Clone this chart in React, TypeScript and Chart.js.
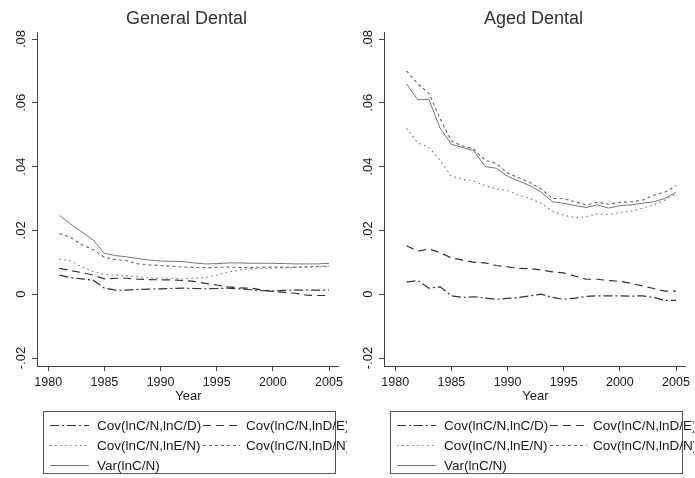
import React, { useEffect, useRef } from 'react';
import { Chart, registerables } from 'chart.js';

Chart.register(...registerables);

// ---------- data ----------
const years = [1981, 1982, 1983, 1984, 1985, 1986, 1987, 1988, 1989, 1990, 1991, 1992, 1993, 1994, 1995, 1996, 1997, 1998, 1999, 2000, 2001, 2002, 2003, 2004, 2005];
const xTickYears = [1980, 1985, 1990, 1995, 2000, 2005];
const yTickValues = [-0.02, 0, 0.02, 0.04, 0.06, 0.08];
const yTickLabels = ['-.02', '0', '.02', '.04', '.06', '.08'];
const seriesNames = ['Cov(lnC/N,lnC/D)', 'Cov(lnC/N,lnD/E)', 'Cov(lnC/N,lnE/N)', 'Cov(lnC/N,lnD/N)', 'Var(lnC/N)'];
const panelTitles = ['General Dental', 'Aged Dental'];

// General Dental
const genCovCD = [0.006, 0.0052, 0.0048, 0.0044, 0.0019, 0.0013, 0.0013, 0.0015, 0.0016, 0.0017, 0.0018, 0.0019, 0.0018, 0.0017, 0.0018, 0.0019, 0.0017, 0.0014, 0.0011, 0.001, 0.0012, 0.0013, 0.0013, 0.0013, 0.0013];
const genCovDE = [0.0081, 0.0074, 0.0068, 0.006, 0.0048, 0.005, 0.005, 0.0047, 0.0046, 0.0045, 0.0045, 0.0043, 0.004, 0.0034, 0.0029, 0.0023, 0.002, 0.0019, 0.0014, 0.0009, 0.0006, 0.0003, -0.0003, -0.0004, -0.0004];
const genCovEN = [0.011, 0.0105, 0.0085, 0.0072, 0.0062, 0.006, 0.0058, 0.0055, 0.0052, 0.005, 0.005, 0.0048, 0.005, 0.0052, 0.006, 0.007, 0.0075, 0.008, 0.008, 0.0082, 0.0083, 0.0084, 0.0085, 0.0086, 0.0087];
const genCovDN = [0.019, 0.0178, 0.0155, 0.014, 0.0116, 0.0108, 0.0105, 0.0095, 0.0092, 0.009, 0.0088, 0.0085, 0.0084, 0.0083, 0.0084, 0.0085, 0.0084, 0.0084, 0.0085, 0.0085, 0.0085, 0.0085, 0.0086, 0.0087, 0.0089];
const genVar = [0.0247, 0.022, 0.0195, 0.017, 0.0128, 0.0121, 0.0117, 0.0112, 0.0107, 0.0104, 0.0103, 0.0102, 0.0098, 0.0095, 0.0096, 0.0098, 0.0098, 0.0097, 0.0097, 0.0097, 0.0096, 0.0095, 0.0095, 0.0095, 0.0097];

// Aged Dental
const agedCovCD = [0.0038, 0.0043, 0.0019, 0.0023, -0.0005, -0.001, -0.0008, -0.0012, -0.0016, -0.0013, -0.001, -0.0005, 0, -0.001, -0.0016, -0.0012, -0.0007, -0.0005, -0.0005, -0.0005, -0.0006, -0.0005, -0.001, -0.0019, -0.0019];
const agedCovDE = [0.0152, 0.0135, 0.0142, 0.013, 0.0114, 0.0107, 0.01, 0.0098, 0.009, 0.0086, 0.0081, 0.008, 0.0076, 0.007, 0.0067, 0.0057, 0.0047, 0.0047, 0.0043, 0.0041, 0.0034, 0.0026, 0.0018, 0.001, 0.001];
const agedCovEN = [0.052, 0.0475, 0.046, 0.042, 0.037, 0.036, 0.0355, 0.034, 0.033, 0.0325, 0.031, 0.03, 0.0285, 0.026, 0.0248, 0.024, 0.0243, 0.0252, 0.025, 0.0256, 0.026, 0.027, 0.028, 0.0295, 0.0315];
const agedCovDN = [0.07, 0.066, 0.063, 0.055, 0.048, 0.0465, 0.0455, 0.042, 0.041, 0.038, 0.0365, 0.035, 0.033, 0.03, 0.03, 0.029, 0.028, 0.0288, 0.0282, 0.0288, 0.029, 0.0295, 0.031, 0.032, 0.034];
const agedVar = [0.066, 0.061, 0.061, 0.052, 0.047, 0.046, 0.045, 0.04, 0.0395, 0.037, 0.0355, 0.034, 0.032, 0.029, 0.0285, 0.0278, 0.0272, 0.028, 0.027, 0.0278, 0.028, 0.0285, 0.029, 0.03, 0.032];

const generalSeries = [genCovCD, genCovDE, genCovEN, genCovDN, genVar];
const agedSeries = [agedCovCD, agedCovDE, agedCovEN, agedCovDN, agedVar];

// ---------- styles ----------
const lineStyles = [
  { color: '#333333', dash: [9, 3, 2, 3], width: 1.2 },
  { color: '#333333', dash: [8, 5], width: 1.2 },
  { color: '#7a7a7a', dash: [1.5, 3.5], width: 1.2 },
  { color: '#666666', dash: [3, 3], width: 1.1 },
  { color: '#777777', dash: [], width: 1 },
];

const FONT = '"Liberation Sans", Arial, Helvetica, sans-serif';
const W = 347;
const H = 478;

function makeDecor(title: string) {
  return {
    id: 'decor',
    afterDraw(chart: any) {
      const ctx = chart.ctx as CanvasRenderingContext2D;
      const ca = chart.chartArea;
      const xs = chart.scales.x;
      const ys = chart.scales.y;
      const cx = (ca.left + ca.right) / 2;
      ctx.save();
      // title
      ctx.fillStyle = '#333';
      ctx.textAlign = 'center';
      ctx.textBaseline = 'middle';
      ctx.font = `18px ${FONT}`;
      ctx.fillText(title, cx - 1, 19);
      // x tick labels
      ctx.fillStyle = '#1a1a1a';
      ctx.font = `12.5px ${FONT}`;
      xTickYears.forEach((v) => ctx.fillText(String(v), xs.getPixelForValue(v), 383));
      ctx.font = `13px ${FONT}`;
      ctx.fillText('Year', cx + 1, 396);
      // y tick labels (rotated)
      ctx.font = `13px ${FONT}`;
      yTickValues.forEach((v, i) => {
        ctx.save();
        ctx.translate(21, ys.getPixelForValue(v));
        ctx.rotate(-Math.PI / 2);
        ctx.fillText(yTickLabels[i], 0, 0);
        ctx.restore();
      });
      // legend
      const bl = ca.left + 6;
      const bt = 411;
      const bw = 292;
      const bh = 62;
      ctx.strokeStyle = '#555';
      ctx.lineWidth = 1;
      ctx.setLineDash([]);
      ctx.strokeRect(bl + 0.5, bt + 0.5, bw, bh);
      const rowsY = [425, 445, 465];
      const pos = [
        [0, 0], [0, 1], [1, 0], [1, 1], [2, 0],
      ];
      ctx.font = `13.5px ${FONT}`;
      ctx.textAlign = 'left';
      ctx.textBaseline = 'middle';
      pos.forEach(([r, c], i) => {
        const y = rowsY[r];
        const sx0 = c === 0 ? bl + 7 : bl + 160;
        const sx1 = c === 0 ? bl + 46 : bl + 197;
        const tx = c === 0 ? bl + 54 : bl + 203;
        const st = lineStyles[i];
        ctx.save();
        ctx.strokeStyle = st.color;
        ctx.lineWidth = st.width;
        ctx.setLineDash(st.dash);
        ctx.beginPath();
        ctx.moveTo(sx0, y + 0.5);
        ctx.lineTo(sx1, y + 0.5);
        ctx.stroke();
        ctx.restore();
        ctx.fillStyle = '#1a1a1a';
        ctx.fillText(seriesNames[i], tx, y + 1);
      });
      ctx.restore();
    },
  };
}

function Panel({ title, series }: { title: string; series: number[][] }) {
  const ref = useRef<HTMLCanvasElement | null>(null);
  useEffect(() => {
    if (!ref.current) return;
    const datasets = series.map((vals, i) => ({
      label: seriesNames[i],
      data: years.map((yr, j) => ({ x: yr, y: vals[j] })),
      borderColor: lineStyles[i].color,
      borderWidth: lineStyles[i].width,
      borderDash: lineStyles[i].dash,
      pointRadius: 0,
      tension: 0,
      fill: false,
    }));
    const axisCommon = {
      ticks: { display: false },
      grid: { display: true, drawOnChartArea: false, drawTicks: true, tickLength: 5, color: '#444', lineWidth: 1 },
      border: { display: true, color: '#444', width: 1 },
    };
    const chart = new Chart(ref.current, {
      type: 'line',
      data: { datasets },
      options: {
        animation: false,
        responsive: false,
        devicePixelRatio: 1,
        layout: { padding: { top: 32, right: 9, bottom: 74, left: 0 } },
        plugins: { legend: { display: false }, title: { display: false }, tooltip: { enabled: false } },
        scales: {
          x: {
            type: 'linear',
            min: 1979,
            max: 2005.8,
            ...axisCommon,
            afterBuildTicks: (s: any) => { s.ticks = xTickYears.map((v) => ({ value: v })); },
            afterFit: (s: any) => { s.height = 38; },
          },
          y: {
            type: 'linear',
            min: -0.0225,
            max: 0.0822,
            ...axisCommon,
            afterBuildTicks: (s: any) => { s.ticks = yTickValues.map((v) => ({ value: v })); },
            afterFit: (s: any) => { s.width = 37; },
          },
        },
      } as any,
      plugins: [makeDecor(title)],
    });
    return () => chart.destroy();
  }, [title, series]);
  return <canvas ref={ref} width={W} height={H} style={{ display: 'block', width: W, height: H }} />;
}

export default function App() {
  return (
    <div style={{ position: 'fixed', left: 0, top: 0, width: 695, height: 478, background: '#fff', display: 'flex' }}>
      <Panel title={panelTitles[0]} series={generalSeries} />
      <Panel title={panelTitles[1]} series={agedSeries} />
    </div>
  );
}
